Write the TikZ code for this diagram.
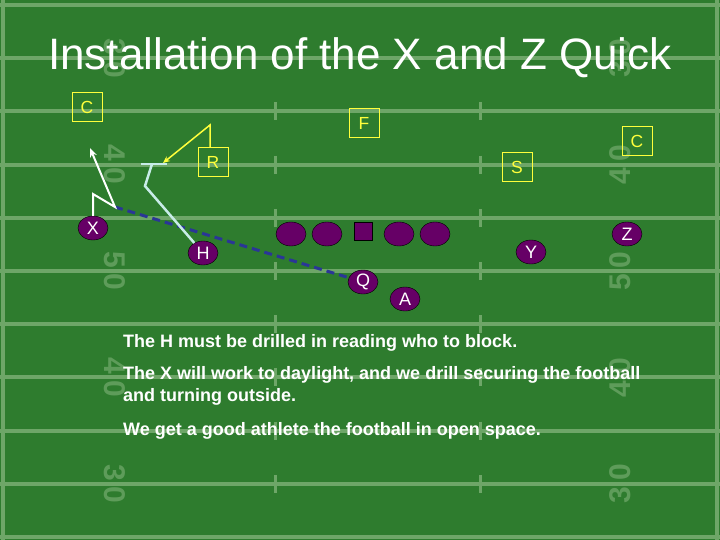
\documentclass[tikz,border=0pt]{standalone}
\usepackage{fontspec}
\setmainfont{Liberation Sans}
\usetikzlibrary{arrows.meta,shapes.geometric}

\definecolor{grass}{RGB}{46,124,46}
\definecolor{chalk}{RGB}{110,166,104}
\definecolor{offense}{RGB}{102,0,102}
\definecolor{readline}{RGB}{42,54,150}
\definecolor{blockline}{RGB}{200,236,232}
\definecolor{defense}{RGB}{255,255,60}

\begin{document}
\begin{tikzpicture}[x=1pt, y=-1pt,
    player/.style={ellipse, draw=black, fill=offense, text=white, minimum width=30pt, minimum height=24pt, inner sep=0pt, font=\fontsize{18}{18}\selectfont},
    snapper/.style={rectangle, draw=black, fill=offense, minimum size=18pt, inner sep=0pt},
    defender/.style={rectangle, draw=defense, text=defense, minimum width=30pt, minimum height=29pt, inner sep=0pt, font=\fontsize{17.5}{18}\selectfont},
    yard/.style={chalk, line width=4pt},
    number/.style={text=chalk!75!grass, inner sep=0pt, font=\fontsize{30}{30}\selectfont\bfseries},
    route/.style={white, line width=2pt, -{Stealth[length=9pt,width=7pt]}},
    read/.style={readline, line width=3pt, dash pattern=on 8pt off 5pt},
    block/.style={blockline, line width=2.5pt},
    rush/.style={defense, line width=1.5pt, -{Stealth[length=7pt,width=6pt]}},
    note/.style={anchor=west, inner sep=0pt, text=white, align=left, font=\fontsize{18}{22}\selectfont\bfseries}]

  \useasboundingbox (0,0) rectangle (720,540);
  \fill[grass] (0,0) rectangle (720,540);
  \foreach \i in {0,...,10}
    \draw[yard] (0,5+53.2*\i) -- (720,5+53.2*\i);
  \draw[yard] (3,0) -- (3,540);
  \draw[yard] (717,0) -- (717,540);
  \foreach \i in {1,...,9}
    \foreach \x in {275,480}
      \draw[chalk, line width=3pt] (\x,5+53.2*\i-9) -- ++(0,18);
  \foreach \i/\n/\m in {1/3/0,3/4/0,5/5/0,7/4/0,9/3/0} {
    \node[number, rotate=-90] at (115,5+53.2*\i) {\n\hspace{6pt}\m};
    \node[number, rotate=90] at (620,5+53.2*\i) {\n\hspace{6pt}\m};
  }

  \node[text=white, font=\fontsize{44}{44}\selectfont] (title) at (360,58) {Installation of the X and Z Quick};

  \node[defender] (cl) at (87,107) {C};
  \node[defender] (f) at (364,123) {F};
  \node[defender] (cr) at (637,141) {C};
  \node[defender] (r) at (213,162) {R};
  \node[defender] (s) at (517,167) {S};

  \node[player] (x) at (93,228) {X};
  \node[player] (h) at (203,253) {H};
  \node[player] (lt) at (291,234) {};
  \node[player] (lg) at (327,234) {};
  \node[snapper] (c) at (363,231) {};
  \node[player] (rg) at (399,234) {};
  \node[player] (rt) at (435,234) {};
  \node[player] (y) at (531,252) {Y};
  \node[player] (z) at (627,234) {Z};
  \node[player] (q) at (363,282) {Q};
  \node[player] (a) at (405,299) {A};

  \coordinate (xstem) at (93,194);
  \coordinate (xcut) at (115,207);
  \coordinate (xend) at (90,148);
  \coordinate (hbend) at (145,186);
  \coordinate (hblock) at (152,164);
  \coordinate (barl) at (141,164);
  \coordinate (barr) at (167,164);
  \coordinate (rbend) at (210,125);
  \coordinate (rend) at (163,163);

  \draw[read] (xcut) -- (q);
  \draw[route] (x.north) -- (xstem) -- (xcut) -- (xend);
  \draw[block] (h) -- (hbend) -- (hblock);
  \draw[block] (barl) -- (barr);
  \draw[rush] (r.north -| rbend) -- (rbend) -- (rend);

  \node[note] (n1) at (123,343) {The H must be drilled in reading who to block.};
  \node[note] (n2) at (123,386) {The X will work to daylight, and we drill securing the football\\and turning outside.};
  \node[note] (n3) at (123,431) {We get a good athlete the football in open space.};
\end{tikzpicture}
\end{document}
